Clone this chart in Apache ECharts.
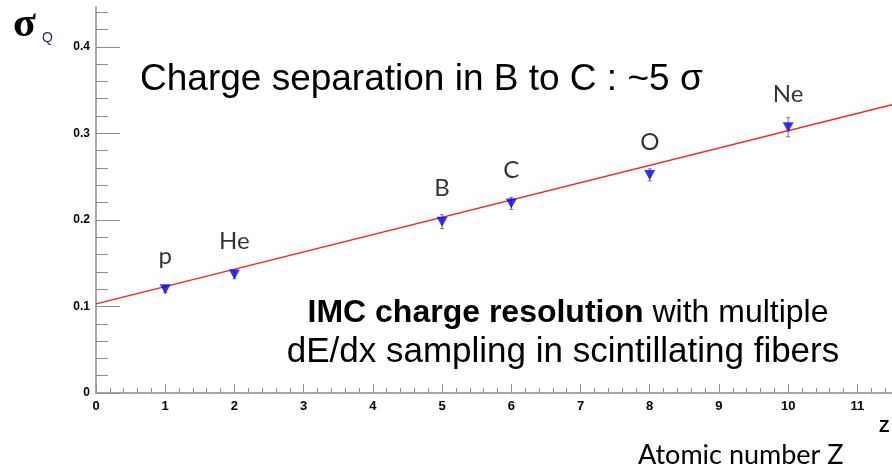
<!DOCTYPE html>
<html>
<head>
<meta charset="utf-8">
<script src="https://cdn.jsdelivr.net/npm/echarts@6/dist/echarts.min.js"></script>
<style>html,body{margin:0;padding:0;background:#fff;}#c{width:892px;height:468px;}</style>
</head>
<body>
<div id="c"></div>
<script>
// ---- data ----
var elements = ['p', 'He', 'B', 'C', 'O', 'Ne'];
var atomicZ = [1, 2, 5, 6, 8, 10];
var sigmaQ = [0.120, 0.137, 0.198, 0.219, 0.252, 0.307];
var sigmaErr = [0.004, 0.005, 0.008, 0.007, 0.007, 0.011];
var fitZ = [0, 11.5];
var fitSigma = [0.103, 0.333];
var xTicks = [0, 1, 2, 3, 4, 5, 6, 7, 8, 9, 10, 11];
var yTicks = [0, 0.1, 0.2, 0.3, 0.4];

var pts = atomicZ.map(function (z, i) { return { value: [z, sigmaQ[i]], name: elements[i] }; });
var errs = atomicZ.map(function (z, i) { return [z, sigmaQ[i] - sigmaErr[i], sigmaQ[i] + sigmaErr[i]]; });
var fit = fitZ.map(function (z, i) { return [z, fitSigma[i]]; });

var chart = echarts.init(document.getElementById('c'), null, { renderer: 'canvas' });
var axisFont = { fontFamily: 'Liberation Sans', fontWeight: 'bold', color: '#000' };
chart.setOption({
  animation: false,
  grid: { left: 96, right: 0, top: 7, bottom: 75 },
  xAxis: {
    type: 'value', min: 0, max: 11.5, interval: 1,
    axisLine: { lineStyle: { color: '#8c8c8c', width: 1.5 } },
    axisTick: { inside: true, length: 9, lineStyle: { color: '#8c8c8c' }, customValues: xTicks },
    minorTick: { show: true, splitNumber: 5, length: 5, lineStyle: { color: '#8c8c8c' } },
    axisLabel: Object.assign({ fontSize: 13, margin: 7, customValues: xTicks }, axisFont),
    splitLine: { show: false }
  },
  yAxis: {
    type: 'value', min: 0, max: 0.446, interval: 0.1,
    axisLine: { show: true, lineStyle: { color: '#8c8c8c', width: 1.5 } },
    axisTick: { show: true, inside: true, length: 24, lineStyle: { color: '#8c8c8c' }, customValues: yTicks },
    minorTick: { show: true, splitNumber: 5, length: 12, lineStyle: { color: '#8c8c8c' } },
    axisLabel: Object.assign({ fontSize: 12, margin: 6, customValues: yTicks,
      formatter: function (v) { return v === 0 ? '0' : v.toFixed(1); } }, axisFont),
    splitLine: { show: false }
  },
  series: [
    {
      type: 'line', data: fit, symbol: 'none', z: 2,
      lineStyle: { color: '#ff2020', width: 1.5 }
    },
    {
      type: 'custom', z: 3,
      data: errs,
      renderItem: function (params, api) {
        var a = api.coord([api.value(0), api.value(1)]);
        var b = api.coord([api.value(0), api.value(2)]);
        return {
          type: 'group', children: [
            { type: 'line', shape: { x1: a[0], y1: a[1], x2: b[0], y2: b[1] }, style: { stroke: '#777', lineWidth: 1 } },
            { type: 'line', shape: { x1: a[0] - 2, y1: a[1], x2: a[0] + 2, y2: a[1] }, style: { stroke: '#777', lineWidth: 1 } },
            { type: 'line', shape: { x1: b[0] - 2, y1: b[1], x2: b[0] + 2, y2: b[1] }, style: { stroke: '#777', lineWidth: 1 } }
          ]
        };
      }
    },
    {
      type: 'scatter', data: pts, z: 4,
      symbol: 'triangle', symbolRotate: 180, symbolSize: [11, 10],
      itemStyle: { color: '#0000ff' },
      label: {
        show: true, position: 'top', distance: 16,
        formatter: function (p) { return p.name; },
        fontFamily: 'Lato', fontSize: 24, color: '#000'
      }
    }
  ],
  graphic: [
    { type: 'text', left: 13, top: 4, style: { text: 'σ', font: 'bold 42px "Liberation Serif"', fill: '#000' } },
    { type: 'text', left: 42, top: 31, style: { text: 'Q', font: '14px "Liberation Sans"', fill: '#1f2f66' } },
    { type: 'text', x: 140, y: 80, style: { text: 'Charge separation in B to C : ~5 σ', font: '37px "Liberation Sans"', fill: '#000', verticalAlign: 'middle' } },
    { type: 'text', x: 568, y: 313, style: {
        text: '{b|IMC charge resolution} with multiple',
        font: '32px "Liberation Sans"', fill: '#000', align: 'center', verticalAlign: 'middle',
        rich: { b: { fontWeight: 'bold', fontSize: 32, fontFamily: 'Liberation Sans' } } } },
    { type: 'text', x: 563, y: 352, style: { text: 'dE/dx sampling in scintillating fibers', font: '35px "Liberation Sans"', fill: '#000', align: 'center', verticalAlign: 'middle' } },
    { type: 'text', x: 879, y: 427, style: { text: 'Z', font: 'bold 17px "Liberation Sans"', fill: '#000', verticalAlign: 'middle' } },
    { type: 'text', x: 638, y: 455, style: { text: 'Atomic number Z', font: '27px Lato', fill: '#000', verticalAlign: 'middle' } }
  ]
});
</script>
</body>
</html>
